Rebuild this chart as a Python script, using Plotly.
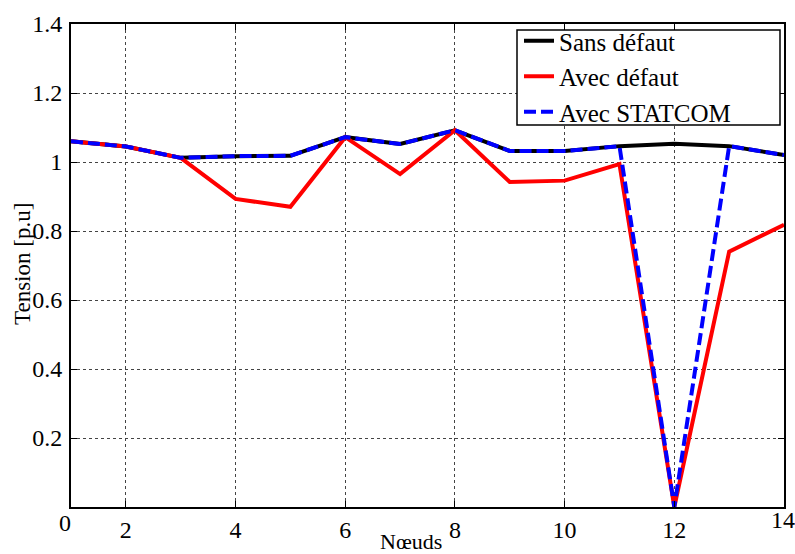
import plotly.graph_objects as go

nodes = list(range(1, 15))
sans_defaut = [1.06, 1.045, 1.012, 1.017, 1.018, 1.072, 1.052, 1.092, 1.032, 1.032, 1.046, 1.053, 1.046, 1.02]
avec_defaut = [1.06, 1.045, 1.012, 0.893, 0.870, 1.072, 0.965, 1.092, 0.942, 0.946, 0.994, 0.0, 0.740, 0.818]
avec_statcom = [1.06, 1.045, 1.012, 1.017, 1.018, 1.072, 1.052, 1.092, 1.032, 1.032, 1.046, 0.0, 1.046, 1.02]

x_tickvals = [2, 4, 6, 8, 10, 12]
x_ticktext = ["2", "4", "6", "8", "10", "12"]
x_corner_vals = [1, 14]
x_corner_text = ["0", "14"]
y_tickvals = [0.2, 0.4, 0.6, 0.8, 1.0, 1.2, 1.4]
y_ticktext = ["0.2", "0.4", "0.6", "0.8", "1", "1.2", "1.4"]
x_title = "Nœuds"
y_title = "Tension [p.u]"

FONT = "'Liberation Serif', 'Times New Roman', serif"
L, R, T, B = 71, 784, 24, 507
W, H = 795, 554

def px(xp):
    return (xp - L) / (R - L)

def py(yp):
    return (B - yp) / (B - T)

fig = go.Figure()
fig.add_trace(go.Scatter(x=nodes, y=sans_defaut, mode="lines", name="Sans défaut",
                         line=dict(color="black", width=4)))
fig.add_trace(go.Scatter(x=nodes, y=avec_defaut, mode="lines", name="Avec défaut",
                         line=dict(color="#ff0000", width=4)))
fig.add_trace(go.Scatter(x=nodes, y=avec_statcom, mode="lines", name="Avec STATCOM",
                         line=dict(color="#0000ff", width=4, dash="12px,5px")))

# corner tick labels
fig.add_annotation(x=x_corner_vals[0], y=py(523), xref="x", yref="paper", text=x_corner_text[0],
                   showarrow=False, xanchor="center", yanchor="middle", xshift=-6,
                   font=dict(family=FONT, size=24, color="black"))
fig.add_annotation(x=x_corner_vals[1], y=py(520), xref="x", yref="paper", text=x_corner_text[1],
                   showarrow=False, xanchor="center", yanchor="middle", xshift=-1,
                   font=dict(family=FONT, size=24, color="black"))
# axis titles
fig.add_annotation(x=px(411), y=py(541), xref="paper", yref="paper", text=x_title,
                   showarrow=False, xanchor="center", yanchor="middle",
                   font=dict(family=FONT, size=22, color="black"))
fig.add_annotation(x=px(22), y=py(264), xref="paper", yref="paper", text=y_title,
                   showarrow=False, xanchor="center", yanchor="middle", textangle=-90,
                   font=dict(family=FONT, size=23, color="black"))

fig.add_shape(type="rect", xref="paper", yref="paper",
              x0=px(517), x1=px(780), y0=py(125), y1=py(30),
              line=dict(color="black", width=1.5), fillcolor="white", layer="above")

fig.update_layout(
    width=W, height=H,
    margin=dict(l=L, r=W - R, t=T, b=H - B),
    plot_bgcolor="white", paper_bgcolor="white",
    font=dict(family=FONT, size=24, color="black"),
    showlegend=True,
    legend=dict(x=px(519), xanchor="left", y=py(18), yanchor="top",
                bgcolor="rgba(0,0,0,0)", borderwidth=0,
                font=dict(family=FONT, size=25, color="black"),
                itemwidth=30, tracegroupgap=0),
    xaxis=dict(range=[1, 14], tickmode="array", tickvals=x_tickvals, ticktext=x_ticktext,
               showgrid=True, gridcolor="#444", griddash="dot", gridwidth=1,
               zeroline=False, showline=True, linecolor="black", linewidth=2, mirror="ticks",
               ticks="inside", ticklen=6, tickcolor="black", automargin=False,
               ticklabelstandoff=0),
    yaxis=dict(range=[0, 1.4], tickmode="array", tickvals=y_tickvals, ticktext=y_ticktext,
               showgrid=True, gridcolor="#444", griddash="dot", gridwidth=1,
               zeroline=False, showline=True, linecolor="black", linewidth=2, mirror="ticks",
               ticks="inside", ticklen=6, tickcolor="black", automargin=False,
               ticklabelstandoff=2),
)

fig.write_html("out.html", config={"displayModeBar": False},
               post_script="document.body.style.margin='0';document.body.style.padding='0';")
